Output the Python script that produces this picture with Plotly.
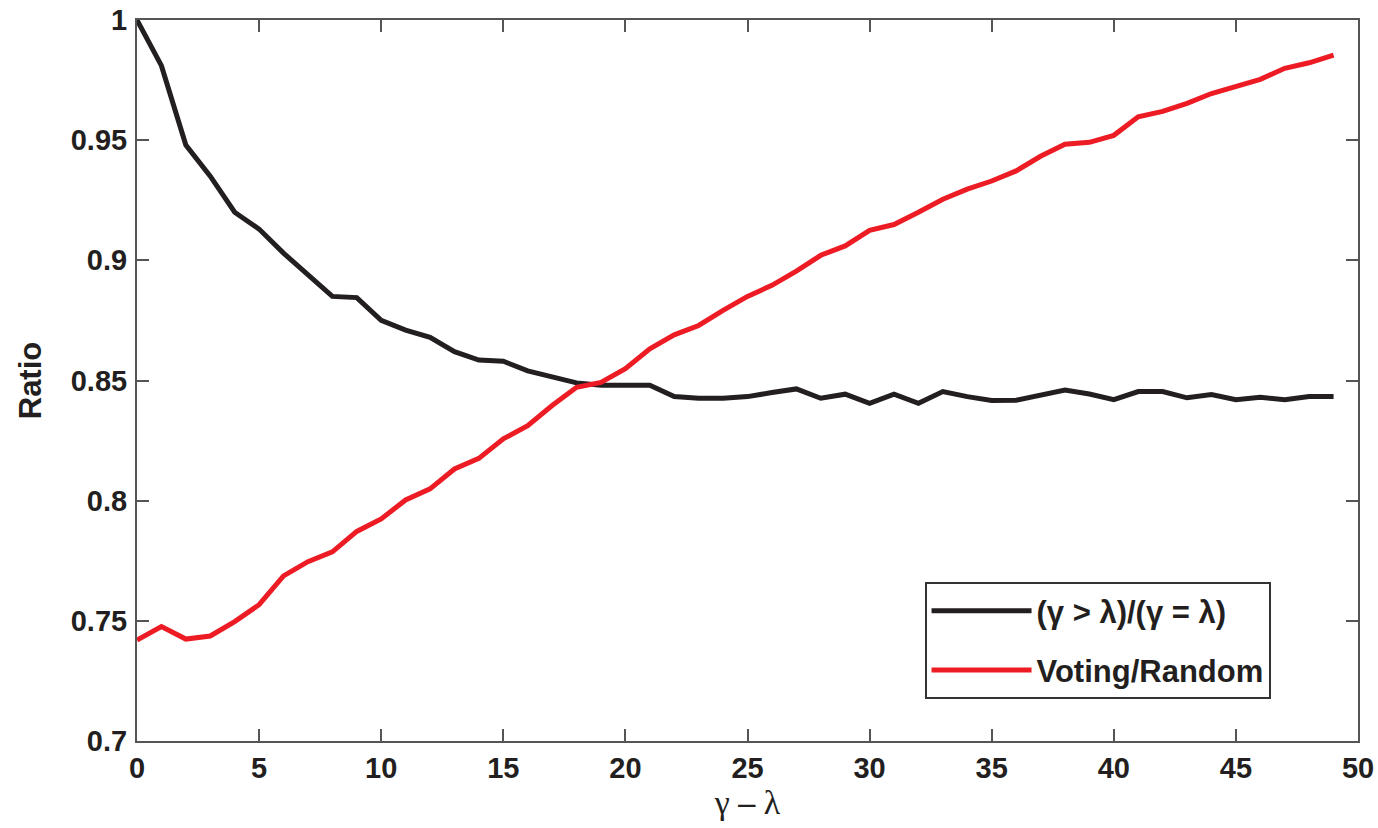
import plotly.graph_objects as go

x_vals = list(range(50))

ratio_black = [1.000, 0.981, 0.948, 0.935, 0.920, 0.913, 0.903, 0.894, 0.885, 0.8845,
               0.875, 0.871, 0.868, 0.862, 0.8585, 0.858, 0.854, 0.8515, 0.849, 0.848,
               0.848, 0.848, 0.8433, 0.8426, 0.8426, 0.8433, 0.845, 0.8465, 0.8426, 0.8443,
               0.8405, 0.8443, 0.8405, 0.8454, 0.8433, 0.8417, 0.8418, 0.844, 0.846, 0.8444,
               0.842, 0.8454, 0.8454, 0.8428, 0.8442, 0.842, 0.843, 0.842, 0.8433, 0.8433]

voting_red = [0.742, 0.7476, 0.7424, 0.7437, 0.7497, 0.7567, 0.7687, 0.7746, 0.7787, 0.7872,
              0.7924, 0.8003, 0.8049, 0.8132, 0.8176, 0.8257, 0.8312, 0.8396, 0.8472, 0.8492,
              0.8549, 0.8632, 0.869, 0.8729, 0.8792, 0.885, 0.8896, 0.8955, 0.9021, 0.906,
              0.9125, 0.9149, 0.920, 0.9254, 0.9296, 0.933, 0.9372, 0.9433, 0.9483, 0.9491,
              0.952, 0.9597, 0.962, 0.9653, 0.9694, 0.9725, 0.9753, 0.9799, 0.9822, 0.9854]

x_ticks = list(range(0, 51, 5))
y_ticks = [0.7, 0.75, 0.8, 0.85, 0.9, 0.95, 1.0]
y_tick_text = ["0.7", "0.75", "0.8", "0.85", "0.9", "0.95", "1"]

name_black = "(γ > λ)/(γ = λ)"
name_red = "Voting/Random"

ink = "#231f20"
tick_font = dict(family="Liberation Sans, Arial", size=29, color=ink, weight="bold")

fig = go.Figure()
fig.add_trace(go.Scatter(x=x_vals, y=ratio_black, mode="lines", name=name_black,
                         legendgroup="a", line=dict(color=ink, width=5)))
fig.add_trace(go.Scatter(x=x_vals, y=voting_red, mode="lines", name=name_red,
                         legendgroup="b", line=dict(color="#ed1c24", width=5)))

axis_common = dict(showgrid=False, zeroline=False, showline=True, linecolor="#555555",
                   linewidth=2, mirror="ticks", ticks="inside", ticklen=12, tickwidth=2,
                   tickcolor="#555555", tickfont=tick_font, automargin=False)

fig.update_layout(
    width=1378, height=828,
    margin=dict(l=137, r=20, t=20, b=87),
    paper_bgcolor="white", plot_bgcolor="white",
    xaxis=dict(range=[0, 50], tickvals=x_ticks, ticktext=[str(v) for v in x_ticks],
               title=dict(text="γ <b>–</b> λ",
                          font=dict(family="Liberation Serif, Times New Roman", size=34, color=ink),
                          standoff=0),
               **axis_common),
    yaxis=dict(range=[0.7, 1.0], tickvals=y_ticks, ticktext=y_tick_text,
               ticklabelstandoff=2,
               title=dict(text="<b>Ratio</b>",
                          font=dict(family="Liberation Sans, Arial", size=31, color=ink),
                          standoff=20),
               **axis_common),
    showlegend=True,
    legend=dict(x=0.645, y=0.2205, xanchor="left", yanchor="top",
                bgcolor="white", bordercolor="#333333", borderwidth=2,
                font=dict(family="Liberation Sans, Arial", size=31, color=ink, weight="bold"),
                itemwidth=100, tracegroupgap=16, traceorder="grouped"),
)

fig.write_html("out.html", config={"displayModeBar": False},
               post_script="document.body.style.margin='0';document.body.style.padding='0';")
